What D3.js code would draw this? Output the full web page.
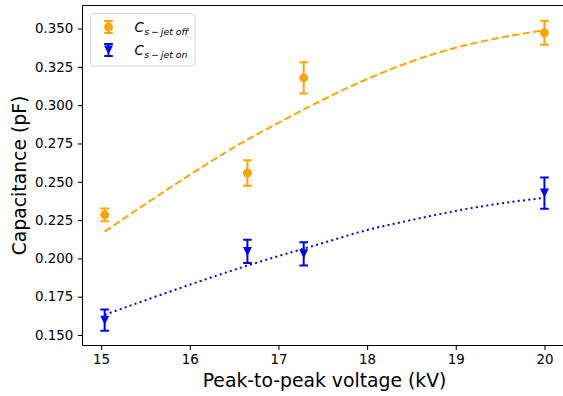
<!DOCTYPE html>
<html>
<head>
<meta charset="utf-8">
<script src="https://cdn.jsdelivr.net/npm/d3@7/dist/d3.min.js"></script>
<style>
  html, body { margin: 0; padding: 0; background: #fff; }
  svg { display: block; font-family: "DejaVu Sans", sans-serif; }
</style>
</head>
<body>
<svg id="chart" width="563" height="396"></svg>
<script>
// Measured capacitance against peak-to-peak voltage
const voltages   = [15.04, 16.65, 17.285, 20.0];
const capOff     = [0.2284, 0.2557, 0.3178, 0.3472];
const capOffErr  = [0.0042, 0.0083, 0.0102, 0.0078];
const capOn      = [0.1597, 0.2045, 0.2030, 0.2426];
const capOnErr   = [0.0069, 0.0076, 0.0076, 0.0102];

// Fitted trend curves
const fitVoltages = [15.04, 15.5, 16, 16.5, 17, 17.5, 18, 18.5, 19, 19.5, 20.0];
const fitOff      = [0.2175, 0.2355, 0.2545, 0.2725, 0.2885, 0.3035, 0.3170, 0.3285, 0.3375, 0.3440, 0.3490];
const fitOn       = [0.1632, 0.1727, 0.1828, 0.1925, 0.2015, 0.2100, 0.2185, 0.2250, 0.2310, 0.2358, 0.2395];

const xTicks = [15, 16, 17, 18, 19, 20];
const yTicks = [0.150, 0.175, 0.200, 0.225, 0.250, 0.275, 0.300, 0.325, 0.350];

const ORANGE = "#FFA500", BLUE = "#0000FF";
const LW = 2, CAP = 4.3, MS = 4.5;
const svg = d3.select("#chart");

const pLeft = 82.5, pRight = 566.6, pTop = 5.5, pBottom = 345.5;
const x = d3.scaleLinear().domain([14.79, 20.25]).range([pLeft, pRight]);
const y = d3.scaleLinear().domain([0.14314, 0.36503]).range([pBottom, pTop]);

svg.append("defs").append("clipPath").attr("id", "clip")
  .append("rect").attr("x", pLeft).attr("y", pTop).attr("width", pRight - pLeft).attr("height", pBottom - pTop);
const plot = svg.append("g");
const area = plot.append("g").attr("clip-path", "url(#clip)");

// fit curves
const line = (vals) => d3.line()
  .x((d, i) => x(fitVoltages[i]))
  .y(d => y(d))
  .curve(d3.curveMonotoneX)(vals);

area.append("path").attr("d", line(fitOff))
  .attr("fill", "none").attr("stroke", ORANGE).attr("stroke-width", LW)
  .attr("stroke-dasharray", "7.4,3.2");
area.append("path").attr("d", line(fitOn))
  .attr("fill", "none").attr("stroke", BLUE).attr("stroke-width", LW)
  .attr("stroke-dasharray", "2,3.3");

// error bars
function errorBars(g, vals, errs, color) {
  vals.forEach((v, i) => {
    const cx = x(voltages[i]);
    const y0 = y(v - errs[i]), y1 = y(v + errs[i]);
    g.append("line").attr("x1", cx).attr("x2", cx).attr("y1", y0).attr("y2", y1)
      .attr("stroke", color).attr("stroke-width", LW);
    [y0, y1].forEach(yy => g.append("line")
      .attr("x1", cx - CAP).attr("x2", cx + CAP).attr("y1", yy).attr("y2", yy)
      .attr("stroke", color).attr("stroke-width", LW));
  });
}
errorBars(area, capOff, capOffErr, ORANGE);
errorBars(area, capOn, capOnErr, BLUE);

const tri = (cx, cy, s) => `M${cx},${cy + s}L${cx - s},${cy - s}L${cx + s},${cy - s}Z`;

area.selectAll("circle.off").data(capOff).join("circle")
  .attr("class", "off")
  .attr("cx", (d, i) => x(voltages[i])).attr("cy", d => y(d)).attr("r", MS)
  .attr("fill", ORANGE);
area.selectAll("path.on").data(capOn).join("path")
  .attr("class", "on")
  .attr("d", (d, i) => tri(x(voltages[i]), y(d), MS))
  .attr("fill", BLUE);

// spines
const spine = plot.append("g").attr("stroke", "#000").attr("stroke-width", 1.07);
spine.append("line").attr("x1", pLeft).attr("x2", pLeft).attr("y1", pTop).attr("y2", pBottom);
spine.append("line").attr("x1", pLeft).attr("x2", pRight).attr("y1", pBottom).attr("y2", pBottom);
spine.append("line").attr("x1", pLeft).attr("x2", pRight).attr("y1", pTop).attr("y2", pTop);
spine.append("line").attr("x1", pRight).attr("x2", pRight).attr("y1", pTop).attr("y2", pBottom);

// axes
const xAxis = svg.append("g").attr("transform", `translate(0,${pBottom})`)
  .call(d3.axisBottom(x).tickValues(xTicks).tickFormat(d3.format("d")).tickSizeOuter(0).tickSize(4.6).tickPadding(4.6));
const yAxis = svg.append("g").attr("transform", `translate(${pLeft},0)`)
  .call(d3.axisLeft(y).tickValues(yTicks).tickFormat(d3.format(".3f")).tickSizeOuter(0).tickSize(4.6).tickPadding(4.6));
[xAxis, yAxis].forEach(a => {
  a.select(".domain").remove();
  a.selectAll(".tick line").attr("stroke", "#000").attr("stroke-width", 1.07);
  a.selectAll(".tick text").attr("fill", "#000")
    .attr("font-family", "DejaVu Sans").attr("font-size", 13.4);
});

// axis titles
svg.append("text").attr("x", (pLeft + pRight) / 2).attr("y", 387)
  .attr("text-anchor", "middle").attr("font-size", 18.8).attr("fill", "#000")
  .text("Peak-to-peak voltage (kV)");
svg.append("text").attr("transform", `translate(25.5,${(pTop + pBottom) / 2}) rotate(-90)`)
  .attr("text-anchor", "middle").attr("font-size", 18.8).attr("fill", "#000")
  .text("Capacitance (pF)");

// legend
const lg = svg.append("g");
lg.append("rect").attr("x", 90.5).attr("y", 13.5).attr("width", 104.5).attr("height", 52.5)
  .attr("rx", 3).attr("fill", "#fff").attr("fill-opacity", 0.8)
  .attr("stroke", "#d6d6d6").attr("stroke-width", 1);

const legendItems = [
  { label: "s\u2009\u2212\u2009jet off", color: ORANGE, shape: "circle" },
  { label: "s\u2009\u2212\u2009jet on",  color: BLUE,   shape: "tri" }
];
legendItems.forEach((it, i) => {
  const cy = 27 + i * 23, cx = 108.5;
  const g = lg.append("g");
  g.append("line").attr("x1", cx).attr("x2", cx).attr("y1", cy - 6).attr("y2", cy + 6)
    .attr("stroke", it.color).attr("stroke-width", LW);
  [cy - 6, cy + 6].forEach(yy => g.append("line").attr("x1", cx - CAP).attr("x2", cx + CAP)
    .attr("y1", yy).attr("y2", yy).attr("stroke", it.color).attr("stroke-width", LW));
  if (it.shape === "circle") g.append("circle").attr("cx", cx).attr("cy", cy).attr("r", MS).attr("fill", it.color);
  else g.append("path").attr("d", tri(cx, cy, MS)).attr("fill", it.color);

  const t = g.append("text").attr("x", 134.5).attr("y", cy + 5).attr("fill", "#000")
    .attr("font-size", 13.4).attr("font-style", "italic");
  t.append("tspan").text("C");
  t.append("tspan").attr("font-size", 9.4).attr("dy", 2.6).attr("dx", 0.5).text(it.label);
});
</script>
</body>
</html>
